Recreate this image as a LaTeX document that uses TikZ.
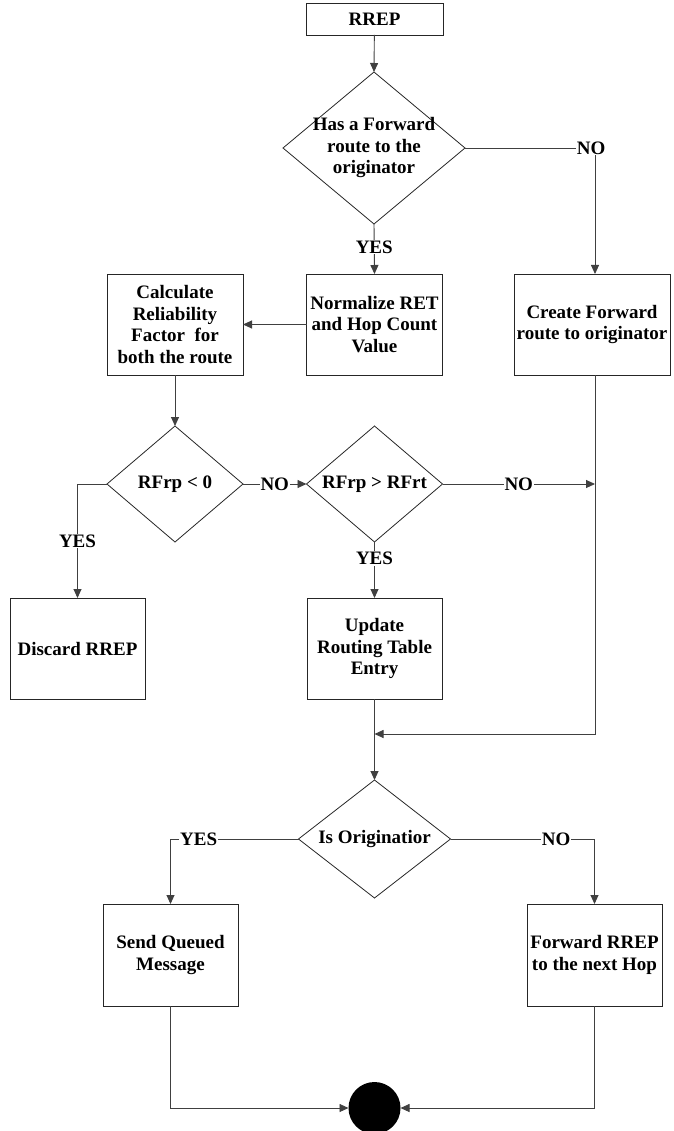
\documentclass[tikz,border=0pt]{standalone}
\usepackage{fontspec}
\setmainfont{Liberation Serif}
\usetikzlibrary{arrows.meta,shapes.geometric}
\begin{document}
\begin{tikzpicture}[x=1pt,y=-1pt,
  txt/.style={font=\fontsize{19}{21.5}\selectfont\bfseries, align=center},
  box/.style={draw=black!85, line width=0.8pt, inner sep=0pt, outer sep=0pt, txt},
  decision/.style={draw=black!85, line width=0.8pt, diamond, inner sep=0pt, outer sep=0pt},
  lbl/.style={fill=white, inner sep=1pt, txt},
  conn/.style={draw=black!75, line width=0.9pt, -{Triangle[length=9pt,width=8pt]}},
  plain/.style={draw=black!75, line width=0.9pt}
]
\useasboundingbox (0,0) rectangle (673,1131);

% nodes
\node[box, minimum width=137pt, minimum height=32pt] (rrep) at (374.5,19) {RREP};
\node[decision, minimum width=182pt, minimum height=152pt] (d1) at (374,148) {};
\node[txt] at (d1) {Has a Forward\\route to the\\originator};
\node[box, minimum width=136pt, minimum height=101pt] (norm) at (374.5,324.5) {Normalize RET\\and Hop Count\\Value};
\node[box, minimum width=136pt, minimum height=101pt] (calc) at (175,324.5) {Calculate\\Reliability\\Factor\ \ for\\both the route};
\node[box, minimum width=156pt, minimum height=101pt] (create) at (592,324.5) {Create Forward\\route to originator};
\node[decision, minimum width=136pt, minimum height=116pt] (d2) at (175,484) {};
\node[txt] at (d2) {RFrp < 0};
\node[decision, minimum width=136pt, minimum height=116pt] (d3) at (374.5,484) {};
\node[txt] at (d3) {RFrp > RFrt};
\node[box, minimum width=135pt, minimum height=101pt] (discard) at (77.5,648.5) {Discard RREP};
\node[box, minimum width=135pt, minimum height=101pt] (update) at (374.5,648.5) {Update\\Routing Table\\Entry};
\node[decision, minimum width=152pt, minimum height=118pt] (d4) at (374.5,839) {};
\node[txt] at (d4) {Is Originatior};
\node[box, minimum width=135pt, minimum height=102pt] (send) at (170.5,955) {Send Queued\\Message};
\node[box, minimum width=135pt, minimum height=102pt] (fwd) at (594.5,955) {Forward RREP\\to the next Hop};
\node[circle, fill=black, minimum size=52pt, inner sep=0pt, outer sep=0pt] (end) at (374.5,1108) {};

\coordinate (cx) at (595,148);
\coordinate (jn) at (374.5,734);

% connectors
\draw[conn] (rrep) -- (d1.north);
\draw[conn] (d1.south) -- node[lbl, pos=0.46] {YES} (norm.north);
\draw[conn] (d1.east) -- (cx) node[lbl, pos=0.97] {NO} -- (create.north -| cx);
\draw[conn] (norm.west) -- (calc.east);
\draw[conn] (calc.south) -- (d2.north);
\draw[conn] (d2.west) -| node[lbl, pos=0.75] {YES} (discard.north);
\draw[conn] (d2.east) -- node[lbl, pos=0.5] {NO} (d3.west);
\draw[conn] (d3.east) -- node[lbl, pos=0.5] {NO} (d3.east -| cx);
\draw[conn] (d3.south) -- node[lbl, pos=0.29] {YES} (update.north);
\draw[conn] (create.south -| cx) |- (jn);
\draw[conn] (update.south) -- (d4.north);
\draw[conn] (d4.west) -| node[lbl, pos=0.39] {YES} (send.north);
\draw[conn] (d4.east) -| node[lbl, pos=0.367] {NO} (fwd.north);
\draw[conn] (send.south) |- (end.west);
\draw[conn] (fwd.south) |- (end.east);
\end{tikzpicture}
\end{document}
